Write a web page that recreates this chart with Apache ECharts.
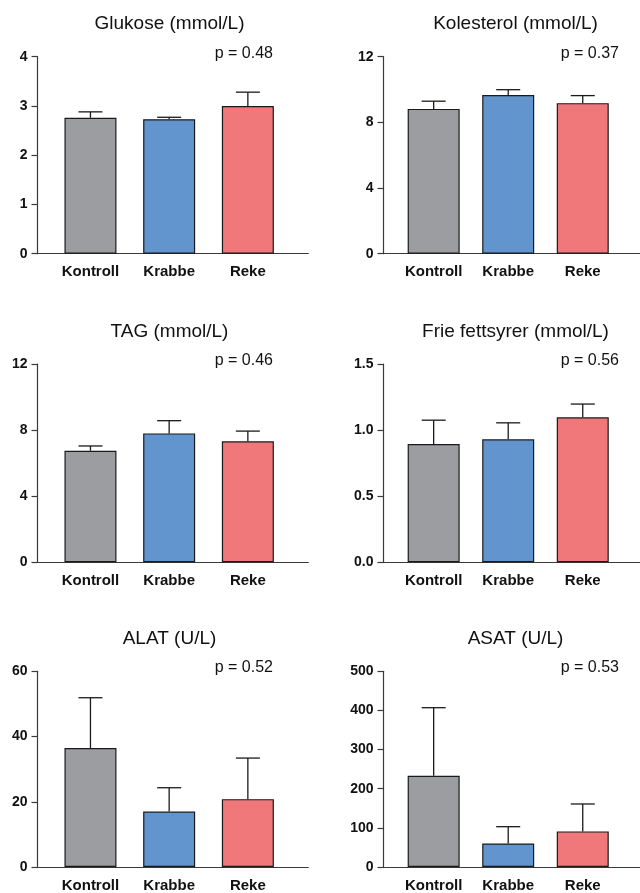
<!DOCTYPE html>
<html>
<head>
<meta charset="utf-8">
<script src="https://cdn.jsdelivr.net/npm/echarts@6/dist/echarts.min.js"></script>
<style>html,body{margin:0;padding:0;background:#fff}#c{width:640px;height:893px}</style>
</head>
<body>
<div id="c"></div>
<script>
const categories = ['Kontroll', 'Krabbe', 'Reke'];
const barColors = ['#9c9da1', '#6295cd', '#f0777a'];

const titles = ['Glukose (mmol/L)', 'Kolesterol (mmol/L)', 'TAG (mmol/L)', 'Frie fettsyrer (mmol/L)', 'ALAT (U/L)', 'ASAT (U/L)'];
const pValues = ['p = 0.48', 'p = 0.37', 'p = 0.46', 'p = 0.56', 'p = 0.52', 'p = 0.53'];

const glukoseMean = [2.76, 2.73, 3.00];
const glukoseErr = [0.12, 0.04, 0.28];
const kolesterolMean = [8.82, 9.67, 9.17];
const kolesterolErr = [0.47, 0.32, 0.46];
const tagMean = [6.75, 7.80, 7.32];
const tagErr = [0.29, 0.77, 0.62];
const ffaMean = [0.895, 0.93, 1.097];
const ffaErr = [0.18, 0.125, 0.10];
const alatMean = [36.5, 17.0, 20.8];
const alatErr = [15.4, 7.3, 12.6];
const asatMean = [233, 60, 91];
const asatErr = [174, 43, 70];

const yMax = [4, 12, 12, 1.5, 60, 500];
const yInterval = [1, 4, 4, 0.5, 20, 100];
const yDecimals = [0, 0, 0, 1, 0, 0];

const means = [glukoseMean, kolesterolMean, tagMean, ffaMean, alatMean, asatMean];
const errs = [glukoseErr, kolesterolErr, tagErr, ffaErr, alatErr, asatErr];

// layout
const colLeft = [37.5, 383.5];
const rowTop = [56.7, 364, 671.3];
const rowHeight = [197, 198.3, 198];
const gridWidth = 270.8;
const titleY = [14.5, 322.5, 629.5];
const FONT = 'Arial, "Liberation Sans", Helvetica, sans-serif';
const AXIS_COLOR = '#3a3a3a';

const grids = [], xAxes = [], yAxes = [], series = [], titleList = [];
for (let i = 0; i < 6; i++) {
  const r = Math.floor(i / 2), c = i % 2;
  grids.push({left: colLeft[c], top: rowTop[r], width: gridWidth, height: rowHeight[r], containLabel: false});
  xAxes.push({
    gridIndex: i, type: 'value', min: -0.673, max: 2.768,
    axisLine: {show: true, onZero: false, lineStyle: {color: AXIS_COLOR, width: 1.2}},
    axisTick: {show: false}, splitLine: {show: false},
    axisLabel: {
      customValues: [0, 1, 2],
      formatter: v => categories[Math.round(v)],
      fontFamily: FONT, fontWeight: 'bold', fontSize: 15, color: '#111', margin: 11
    }
  });
  const dec = yDecimals[i];
  yAxes.push({
    gridIndex: i, type: 'value', min: 0, max: yMax[i], interval: yInterval[i],
    axisLine: {show: true, onZero: false, lineStyle: {color: AXIS_COLOR, width: 1.2}},
    axisTick: {show: true, length: 6, lineStyle: {color: AXIS_COLOR, width: 1.2}},
    splitLine: {show: false},
    axisLabel: {formatter: v => v.toFixed(dec), fontFamily: FONT, fontWeight: 'bold', fontSize: 14, color: '#111', margin: 10}
  });
  series.push({
    type: 'bar', xAxisIndex: i, yAxisIndex: i, barWidth: 52,
    data: means[i].map((m, k) => ({value: [k, m], itemStyle: {color: barColors[k]}})),
    itemStyle: {borderColor: '#1a1a1a', borderWidth: 1.2},
    silent: true, animation: false
  });
  series.push({
    type: 'custom', xAxisIndex: i, yAxisIndex: i, z: 1,
    data: means[i].map((m, k) => [k, m, errs[i][k]]),
    renderItem: (params, api) => {
      const x = api.value(0), m = api.value(1), e = api.value(2);
      const p0 = api.coord([x, m]);
      const p1 = api.coord([x, m + e]);
      const hw = 12;
      const st = {stroke: '#1a1a1a', lineWidth: 1.3};
      return {type: 'group', children: [
        {type: 'line', shape: {x1: p0[0], y1: p0[1], x2: p1[0], y2: p1[1]}, style: st},
        {type: 'line', shape: {x1: p1[0] - hw, y1: p1[1], x2: p1[0] + hw, y2: p1[1]}, style: st}
      ]};
    },
    silent: true, animation: false
  });
  titleList.push({
    text: titles[i], left: colLeft[c] + 132, top: titleY[r], textAlign: 'center', padding: 0,
    textStyle: {fontFamily: FONT, fontWeight: 'normal', fontSize: 19, color: '#111'}
  });
  titleList.push({
    text: pValues[i], left: colLeft[c] + 235.5, top: rowTop[r] - 11.5, textAlign: 'right', padding: 0,
    textStyle: {fontFamily: FONT, fontWeight: 'normal', fontSize: 16, color: '#111'}
  });
}

const chart = echarts.init(document.getElementById('c'), null, {renderer: 'canvas'});
chart.setOption({
  animation: false,
  backgroundColor: '#fff',
  title: titleList,
  grid: grids, xAxis: xAxes, yAxis: yAxes, series: series
});
</script>
</body>
</html>
